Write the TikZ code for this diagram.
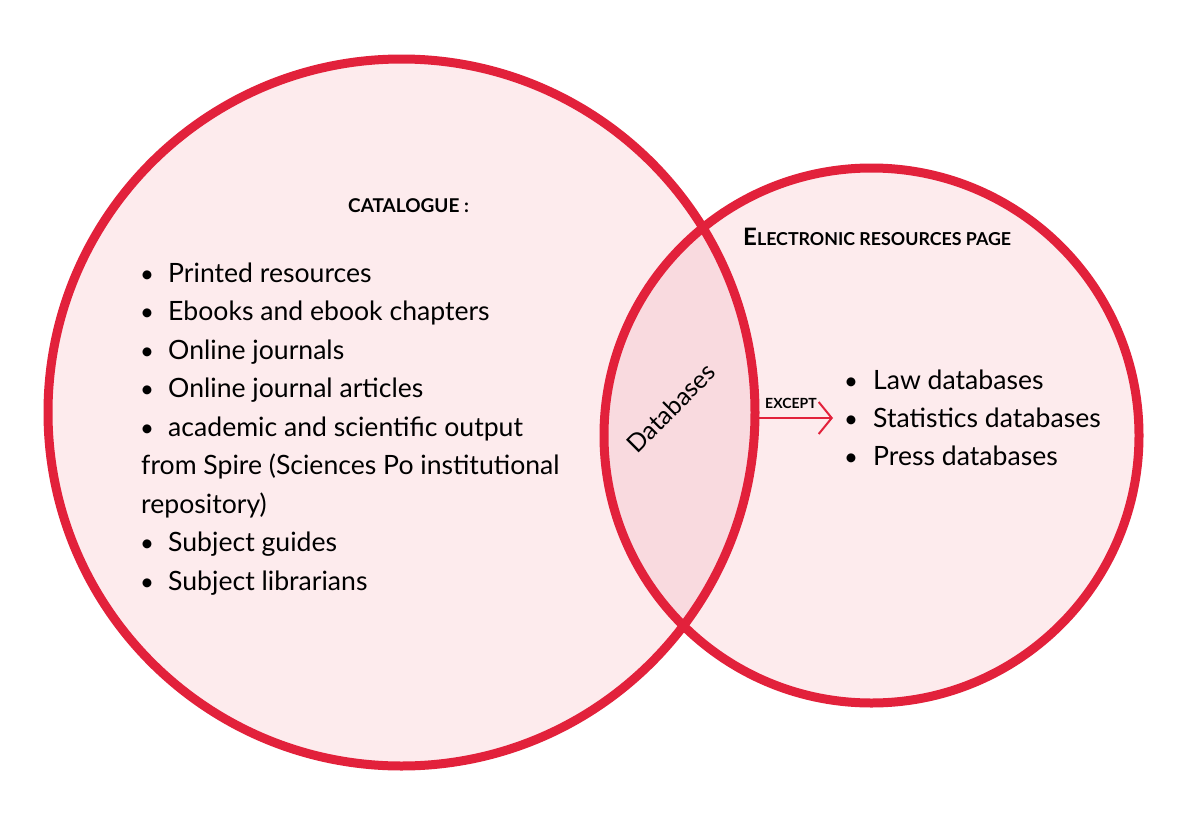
\documentclass[tikz,border=0pt]{standalone}
\usepackage{fontspec}
\setmainfont{Lato}
\usetikzlibrary{arrows.meta}
\definecolor{vred}{HTML}{E2213B}
\definecolor{vfill}{HTML}{FDEBED}
\definecolor{vmid}{HTML}{F9DADF}
\tikzset{
  vset/.style={circle, inner sep=0pt, fill=vfill},
  ring/.style={draw=vred, line width=9pt},
  item/.style={anchor=base west, inner sep=0pt, font=\fontsize{26.6}{30}\selectfont},
  dot/.style={anchor=base, inner sep=0pt, font=\fontsize{24}{28}\selectfont},
  ttl/.style={anchor=base west, inner sep=0pt, font=\bfseries},
}
\newcommand{\bul}{\textbullet}
\begin{document}
\begin{tikzpicture}[x=1pt,y=-1pt]
\useasboundingbox (0,0) rectangle (1200,830);
\fill[white] (0,0) rectangle (1200,830);
\node[vset, minimum size=707pt] (big) at (401.5,412.5) {};
\node[vset, minimum size=535pt] (small) at (871.5,435.5) {};
\begin{scope}
  \clip (big.center) circle (353.5pt);
  \fill[vmid] (small.center) circle (267.5pt);
\end{scope}
\draw[ring] (big.center) circle (353.5pt);
\draw[ring] (small.center) circle (267.5pt);

% titles
\node[ttl] (cat) at (348,212) {\fontsize{19}{22}\selectfont CATALOGUE :};
\node[ttl] (elec) at (743,245) {\fontsize{24}{27}\selectfont E\fontsize{17.8}{20}\selectfont LECTRONIC RESOURCES PAGE};

% left list
\foreach \t/\y [count=\i] in {Printed resources/282, Ebooks and ebook chapters/320.5, Online journals/359, Online journal articles/397.5, academic and scientific output/436}{
  \node[dot] (lb\i) at (147,\y) {\bul};
  \node[item] (lt\i) at (168,\y) {\t};
}
\node[item] (lt6) at (141,474.5) {from Spire (Sciences Po institutional};
\node[item] (lt7) at (141,513) {repository)};
\node[dot] (lb8) at (147,551.5) {\bul};
\node[item] (lt8) at (168,551.5) {Subject guides};
\node[dot] (lb9) at (147,590) {\bul};
\node[item] (lt9) at (168,590) {Subject librarians};

% right list
\foreach \t/\y [count=\i] in {Law databases/389, Statistics databases/427, Press databases/465}{
  \node[dot] (rb\i) at (851,\y) {\bul};
  \node[item] (rt\i) at (873,\y) {\t};
}

% intersection label
\node[rotate=45, inner sep=0pt, font=\fontsize{25}{28}\selectfont] (db) at (671,408) {Databases};

% arrow
\coordinate (as) at (755,418);
\coordinate (ae) at (833,418);
\draw[vred, line width=2pt, -{Straight Barb[length=13pt, width=32pt, line width=2pt]}] (as) -- (ae);
\node[anchor=base west, inner sep=0pt, font=\bfseries\fontsize{14}{16}\selectfont] (exc) at (765,408) {EXCEPT};
\end{tikzpicture}
\end{document}
